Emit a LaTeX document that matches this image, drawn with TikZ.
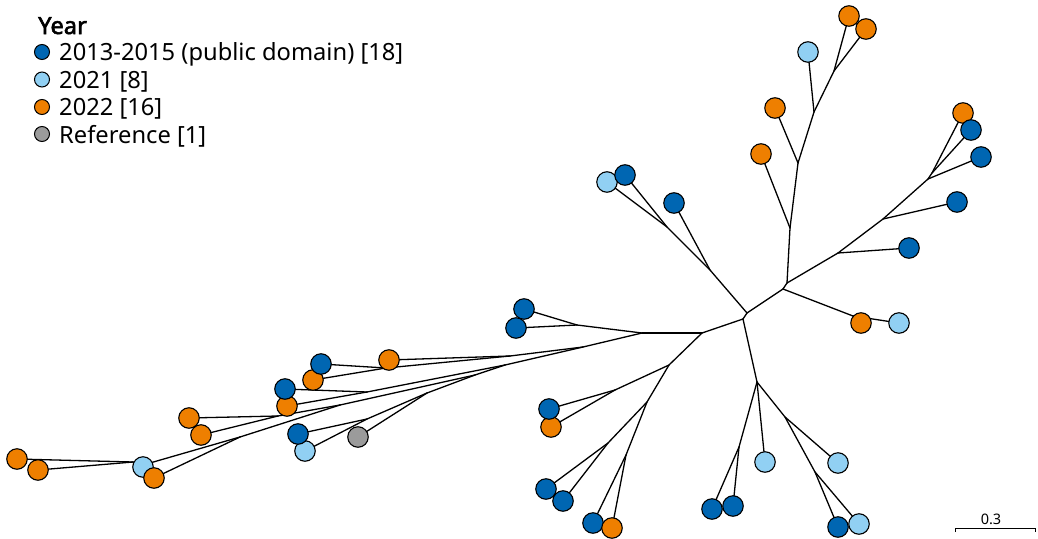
\documentclass[tikz,border=0pt]{standalone}
\usepackage{fontspec}
\setmainfont{Noto Sans}
\newfontfamily\yearfont{Noto Sans}[FakeBold=2.5]
\usetikzlibrary{backgrounds}
\definecolor{cblue}{RGB}{0,102,178}
\definecolor{clight}{RGB}{145,208,243}
\definecolor{corange}{RGB}{238,127,0}
\definecolor{cgray}{RGB}{155,155,155}
\begin{document}
\begin{tikzpicture}[x=1pt,y=-1pt,
  leaf/.style={circle,draw=black,line width=1.1pt,fill=#1,minimum size=20.5pt,inner sep=0pt},
  lg/.style={circle,draw=black,line width=1pt,fill=#1,minimum size=15pt,inner sep=0pt},
  br/.style={line width=1.3pt,line cap=round,line join=round},
  lab/.style={anchor=base west,inner sep=0pt,font=\fontsize{23.7}{28}\selectfont}]
\useasboundingbox (0,0) rectangle (1038,538);
% legend
\node[lab,font=\fontsize{23.7}{28}\selectfont\yearfont] (ttl) at (38,34) {Year};
\node[lg=cblue] (g1) at (42,52) {};
\node[lab] (t1) at (59,60.5) {2013-2015 (public domain) [18]};
\node[lg=clight] (g2) at (42,79.5) {};
\node[lab] (t2) at (59,88) {2021 [8]};
\node[lg=corange] (g3) at (42,107) {};
\node[lab] (t3) at (59,115.5) {2022 [16]};
\node[lg=cgray] (g4) at (42,134) {};
\node[lab] (t4) at (59,143) {Reference [1]};
% internal nodes
\coordinate (A) at (743,319);
\coordinate (B) at (747,313);
\coordinate (D) at (702,333);
\coordinate (E) at (757,382);
\coordinate (F) at (783,289);
\coordinate (G) at (787,283);
\coordinate (H) at (790,228);
\coordinate (I) at (798,163);
\coordinate (J) at (814,112);
\coordinate (K) at (834,71);
\coordinate (L) at (838,253);
\coordinate (M) at (883,219);
\coordinate (N) at (928,179);
\coordinate (O) at (932,173);
\coordinate (P) at (710,270);
\coordinate (Q) at (667,227);
\coordinate (FF) at (853,316);
\coordinate (R) at (739,447);
\coordinate (S) at (785,417);
\coordinate (T) at (815,472);
\coordinate (U) at (642,333);
\coordinate (AA) at (577,325);
\coordinate (BB) at (583,347);
\coordinate (N2) at (510,356);
\coordinate (N1) at (386,368);
\coordinate (P1) at (505,365);
\coordinate (N4) at (367,392);
\coordinate (P2) at (475,375);
\coordinate (N5) at (427,393);
\coordinate (N6) at (367,419);
\coordinate (P3) at (340,405);
\coordinate (N11) at (278,416);
\coordinate (N10) at (240,437);
\coordinate (N9) at (143,465);
\coordinate (N8) at (133,462);
\coordinate (V) at (669,365);
\coordinate (W) at (615,390);
\coordinate (X) at (647,402);
\coordinate (Y) at (608,443);
\coordinate (Z) at (626,455);
% leaves
\node[leaf=corange] (l1) at (849,16) {};
\node[leaf=corange] (l2) at (866,29) {};
\node[leaf=clight] (l3) at (808,52) {};
\node[leaf=corange] (l4) at (775,108) {};
\node[leaf=corange] (l5) at (761,154) {};
\node[leaf=corange] (l6) at (963,113) {};
\node[leaf=cblue] (l7) at (971,130) {};
\node[leaf=cblue] (l8) at (981,157) {};
\node[leaf=cblue] (l9) at (957,202) {};
\node[leaf=cblue] (l10) at (909,248) {};
\node[leaf=corange] (l11) at (861,323) {};
\node[leaf=clight] (l12) at (899,323) {};
\node[leaf=clight] (l13) at (607,182) {};
\node[leaf=cblue] (l14) at (625,175) {};
\node[leaf=cblue] (l15) at (674,203) {};
\node[leaf=cblue] (l16) at (524,309) {};
\node[leaf=cblue] (l17) at (516,328) {};
\node[leaf=corange] (l18) at (389,360) {};
\node[leaf=corange] (l20) at (313,380) {};
\node[leaf=cblue] (l19) at (321,364) {};
\node[leaf=corange] (l22) at (287,406) {};
\node[leaf=cblue] (l21) at (285,389) {};
\node[leaf=corange] (l23) at (189,418) {};
\node[leaf=corange] (l24) at (201,435) {};
\node[leaf=clight] (l26) at (305,451) {};
\node[leaf=cblue] (l25) at (298,434) {};
\node[leaf=cgray] (l27) at (358,437) {};
\node[leaf=corange] (l28) at (17,459) {};
\node[leaf=corange] (l29) at (38,470) {};
\node[leaf=clight] (l30) at (143,467) {};
\node[leaf=corange] (l31) at (154,478) {};
\node[leaf=corange] (l33) at (551,427) {};
\node[leaf=cblue] (l32) at (549,409) {};
\node[leaf=cblue] (l34) at (546,489) {};
\node[leaf=cblue] (l35) at (563,501) {};
\node[leaf=cblue] (l36) at (593,523) {};
\node[leaf=corange] (l37) at (612,528) {};
\node[leaf=cblue] (l38) at (712,509) {};
\node[leaf=cblue] (l39) at (733,506) {};
\node[leaf=clight] (l40) at (765,462) {};
\node[leaf=clight] (l41) at (838,463) {};
\node[leaf=cblue] (l42) at (838,527) {};
\node[leaf=clight] (l43) at (859,524) {};
% branches
\begin{pgfonlayer}{background}
\draw[br] (A) -- (B);
\draw[br] (A) -- (D);
\draw[br] (A) -- (E);
\draw[br] (B) -- (F);
\draw[br] (B) -- (P);
\draw[br] (F) -- (G);
\draw[br] (F) -- (FF);
\draw[br] (G) -- (H);
\draw[br] (G) -- (L);
\draw[br] (H) -- (l5.center);
\draw[br] (H) -- (I);
\draw[br] (I) -- (l4.center);
\draw[br] (I) -- (J);
\draw[br] (J) -- (l3.center);
\draw[br] (J) -- (K);
\draw[br] (K) -- (l1.center);
\draw[br] (K) -- (l2.center);
\draw[br] (L) -- (l10.center);
\draw[br] (L) -- (M);
\draw[br] (M) -- (l9.center);
\draw[br] (M) -- (N);
\draw[br] (N) -- (l8.center);
\draw[br] (N) -- (O);
\draw[br] (O) -- (l7.center);
\draw[br] (O) -- (l6.center);
\draw[br] (FF) -- (l11.center);
\draw[br] (FF) -- (l12.center);
\draw[br] (P) -- (l15.center);
\draw[br] (P) -- (Q);
\draw[br] (Q) -- (l14.center);
\draw[br] (Q) -- (l13.center);
\draw[br] (E) -- (R);
\draw[br] (E) -- (l40.center);
\draw[br] (E) -- (S);
\draw[br] (R) -- (l38.center);
\draw[br] (R) -- (l39.center);
\draw[br] (S) -- (l41.center);
\draw[br] (S) -- (T);
\draw[br] (T) -- (l42.center);
\draw[br] (T) -- (l43.center);
\draw[br] (D) -- (U);
\draw[br] (D) -- (V);
\draw[br] (U) -- (AA);
\draw[br] (U) -- (BB);
\draw[br] (AA) -- (l16.center);
\draw[br] (AA) -- (l17.center);
\draw[br] (BB) -- (N2);
\draw[br] (BB) -- (P1);
\draw[br] (N2) -- (l18.center);
\draw[br] (N2) -- (N1);
\draw[br] (N1) -- (l19.center);
\draw[br] (N1) -- (l20.center);
\draw[br] (P1) -- (N4);
\draw[br] (P1) -- (P2);
\draw[br] (N4) -- (l21.center);
\draw[br] (N4) -- (l22.center);
\draw[br] (P2) -- (N5);
\draw[br] (P2) -- (P3);
\draw[br] (N5) -- (N6);
\draw[br] (N5) -- (l27.center);
\draw[br] (N6) -- (l25.center);
\draw[br] (N6) -- (l26.center);
\draw[br] (P3) -- (N11);
\draw[br] (P3) -- (N10);
\draw[br] (N11) -- (l23.center);
\draw[br] (N11) -- (l24.center);
\draw[br] (N10) -- (N9);
\draw[br] (N10) -- (l31.center);
\draw[br] (N9) -- (N8);
\draw[br] (N9) -- (l30.center);
\draw[br] (N8) -- (l28.center);
\draw[br] (N8) -- (l29.center);
\draw[br] (V) -- (W);
\draw[br] (V) -- (X);
\draw[br] (W) -- (l32.center);
\draw[br] (W) -- (l33.center);
\draw[br] (X) -- (Y);
\draw[br] (X) -- (Z);
\draw[br] (Y) -- (l34.center);
\draw[br] (Y) -- (l35.center);
\draw[br] (Z) -- (l36.center);
\draw[br] (Z) -- (l37.center);
\end{pgfonlayer}
% scale bar
\coordinate (s1) at (955,528);
\coordinate (s2) at (1035,528);
\draw[line width=1pt] ([yshift=-4pt]s1) -- (s1) -- (s2) -- ([yshift=-4pt]s2);
\node[font=\fontsize{14.5}{16}\selectfont,inner sep=0pt] (sl) at (991,519) {0.3};
\end{tikzpicture}
\end{document}
